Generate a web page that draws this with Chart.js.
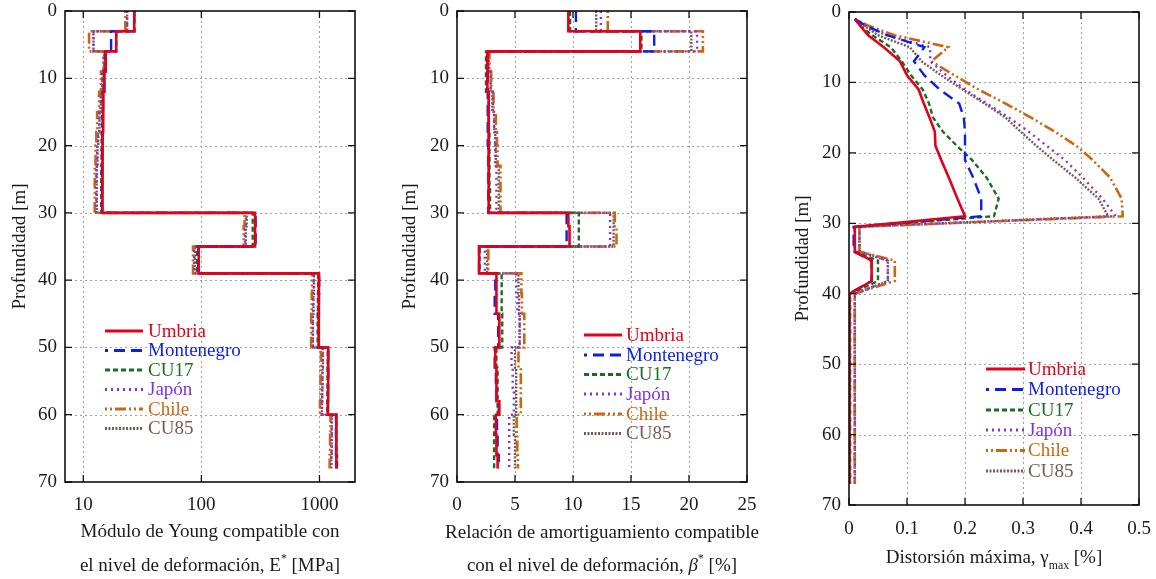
<!DOCTYPE html>
<html>
<head>
<meta charset="utf-8">
<script src="https://cdn.jsdelivr.net/npm/chart.js@4.4.1/dist/chart.umd.min.js"></script>
<style>
  html, body { margin: 0; padding: 0; background: #fff; }
  #wrap { position: relative; width: 1156px; height: 579px; }
  canvas { position: absolute; top: 0; }
</style>
</head>
<body>
<div id="wrap">
  <canvas id="cE" width="380" height="579" style="left:0;width:380px;height:579px"></canvas>
  <canvas id="cBeta" width="400" height="579" style="left:380px;width:400px;height:579px"></canvas>
  <canvas id="cGamma" width="376" height="579" style="left:780px;width:376px;height:579px"></canvas>
</div>
<script>
// series (sismos)
const seriesNames = ['Umbria', 'Montenegro', 'CU17', 'Japón', 'Chile', 'CU85'];
const seriesColors = ['#e2001a', '#0b1fe8', '#1c6d24', '#7f33e2', '#cc6612', '#765b53'];
const seriesDash = [[], [11, 6], [5, 3], [2, 4], [2, 3, 2, 3, 11, 3], [2, 1.5]];
const seriesWidth = [2.6, 2.4, 2.4, 2.4, 2.6, 2.4];

// limites de estratos [m]
const layerDepths = [0, 3, 6, 9, 12, 15, 18, 20, 23, 26, 30, 32, 35, 37, 39, 42, 45, 48, 50, 53, 56, 58, 60, 63, 66, 68];

// modulo de Young compatible E* [MPa], un valor por estrato
const eUmbria     = [27, 19, 15.5, 15.1, 14.8, 14.7, 14.6, 14.6, 14.5, 14.5, 285, 285, 95, 95, 990, 990, 985, 985, 1190, 1185, 1185, 1180, 1390, 1390, 1390];
const eMontenegro = [27, 17.2, 15.4, 15.0, 14.7, 14.6, 14.5, 14.4, 14.4, 14.4, 288, 288, 94, 94, 995, 990, 985, 985, 1185, 1185, 1180, 1180, 1380, 1380, 1400];
const eCU17       = [27, 19, 15.3, 14.9, 14.6, 14.4, 14.3, 14.3, 14.2, 14.2, 272, 272, 92, 92, 975, 970, 965, 965, 1175, 1170, 1170, 1165, 1390, 1390, 1410];
const eJapon      = [23.5, 12.2, 15.0, 14.5, 14.0, 13.6, 13.3, 13.1, 12.9, 12.9, 238, 234, 87, 87, 895, 885, 880, 880, 1065, 1060, 1055, 1050, 1270, 1265, 1260];
const eChile      = [22.7, 11.2, 14.8, 14.1, 13.6, 13.1, 12.9, 12.7, 12.5, 12.5, 232, 228, 85, 85, 865, 860, 850, 850, 1030, 1020, 1020, 1010, 1240, 1230, 1220];
const eCU85       = [23.5, 12.2, 15.0, 14.5, 14.1, 13.7, 13.4, 13.2, 13.0, 13.0, 242, 238, 88, 88, 900, 890, 880, 880, 1070, 1060, 1055, 1050, 1270, 1270, 1260];
const eTicks = [10, 100, 1000];

// amortiguamiento compatible beta* [%], un valor por estrato
const betaUmbria     = [9.6, 15.8, 2.65, 2.6, 2.72, 2.72, 2.72, 2.72, 2.75, 2.75, 9.6, 9.7, 1.9, 1.9, 3.4, 3.4, 3.65, 3.65, 3.3, 3.4, 3.4, 3.65, 3.35, 3.4, 3.5];
const betaMontenegro = [10.25, 17.0, 2.6, 2.65, 2.65, 2.65, 2.65, 2.7, 2.7, 2.7, 9.45, 9.45, 1.9, 1.9, 3.3, 3.25, 3.55, 3.55, 3.25, 3.35, 3.4, 3.6, 3.45, 3.5, 3.6];
const betaCU17       = [9.75, 15.9, 2.5, 2.5, 2.75, 2.75, 2.8, 2.8, 2.8, 2.85, 10.5, 10.5, 1.95, 1.95, 3.85, 3.85, 3.9, 3.9, 3.4, 3.5, 3.5, 3.5, 3.2, 3.2, 3.2];
const betaJapon      = [12.4, 20.7, 2.7, 2.9, 3.1, 3.2, 3.3, 3.3, 3.4, 3.4, 13.2, 13.2, 2.4, 2.4, 5.1, 5.2, 5.4, 5.4, 4.7, 4.8, 4.9, 4.9, 4.5, 4.5, 4.5];
const betaChile      = [13.0, 21.2, 2.8, 2.95, 3.15, 3.35, 3.45, 3.5, 3.75, 3.75, 13.6, 13.75, 2.7, 2.7, 5.55, 5.6, 5.8, 5.8, 5.3, 5.5, 5.5, 5.5, 5.15, 5.2, 5.25];
const betaCU85       = [12.0, 20.2, 2.75, 2.9, 3.05, 3.2, 3.3, 3.35, 3.6, 3.6, 13.5, 13.5, 2.6, 2.6, 5.3, 5.35, 5.4, 5.4, 5.0, 5.1, 5.1, 5.1, 4.9, 5.0, 5.0];

// distorsion maxima gamma_max [%] en cada nodo de profundidad
const gammaDepths     = [1, 2, 3.3, 5, 7, 9, 11, 13, 15, 17, 19, 21, 23.5, 26.5, 29, 30.5, 34, 35.3, 38.2, 40, 50, 60, 67];
const gammaUmbria     = [0.010, 0.020, 0.033, 0.060, 0.088, 0.100, 0.120, 0.129, 0.139, 0.148, 0.149, 0.159, 0.172, 0.187, 0.200, 0.010, 0.010, 0.039, 0.039, 0.001, 0.001, 0.001, 0.001];
const gammaMontenegro = [0.010, 0.030, 0.066, 0.130, 0.112, 0.130, 0.156, 0.190, 0.198, 0.200, 0.200, 0.200, 0.214, 0.228, 0.228, 0.008, 0.008, 0.039, 0.039, 0.000, 0.000, 0.000, 0.000];
const gammaCU17       = [0.010, 0.020, 0.040, 0.072, 0.091, 0.107, 0.127, 0.138, 0.145, 0.162, 0.186, 0.212, 0.237, 0.258, 0.250, 0.010, 0.010, 0.050, 0.050, 0.002, 0.002, 0.002, 0.002];
const gammaJapon      = [0.010, 0.030, 0.065, 0.140, 0.140, 0.168, 0.200, 0.238, 0.276, 0.310, 0.341, 0.372, 0.403, 0.437, 0.460, 0.018, 0.018, 0.067, 0.067, 0.010, 0.010, 0.010, 0.010];
const gammaChile      = [0.010, 0.035, 0.079, 0.171, 0.142, 0.182, 0.223, 0.270, 0.314, 0.355, 0.392, 0.420, 0.450, 0.470, 0.472, 0.018, 0.018, 0.079, 0.079, 0.010, 0.010, 0.010, 0.010];
const gammaCU85       = [0.010, 0.027, 0.050, 0.105, 0.125, 0.159, 0.196, 0.234, 0.270, 0.296, 0.323, 0.352, 0.390, 0.430, 0.447, 0.018, 0.018, 0.067, 0.067, 0.010, 0.010, 0.010, 0.010];

const serif = '"Liberation Serif", "DejaVu Serif", serif';
const fontSize = 19;

// perfil escalonado: cada estrato da dos puntos (techo y base)
function stepPoints(values) {
  const pts = [];
  values.forEach((v, i) => {
    pts.push({ x: v, y: layerDepths[i] });
    pts.push({ x: v, y: layerDepths[i + 1] });
  });
  return pts;
}

function nodePoints(values) {
  return values.map((v, i) => ({ x: v, y: gammaDepths[i] }));
}

function makeDatasets(list, toPoints) {
  return list.map((vals, i) => ({
    label: seriesNames[i],
    data: toPoints(vals),
    showLine: true,
    borderColor: seriesColors[i],
    borderWidth: seriesWidth[i],
    borderDash: seriesDash[i],
    pointRadius: 0,
    fill: false
  }));
}

// texto con superindices / subindices
function drawRich(ctx, segs, cx, cy) {
  const fontOf = s => {
    const size = (s.sup || s.sub) ? fontSize * 0.62 : fontSize;
    return (s.italic ? 'italic ' : '') + size + 'px ' + serif;
  };
  let total = 0;
  segs.forEach(s => { ctx.font = fontOf(s); total += ctx.measureText(s.t).width; });
  let x = cx - total / 2;
  ctx.textAlign = 'left';
  ctx.textBaseline = 'middle';
  segs.forEach(s => {
    ctx.font = fontOf(s);
    const dy = s.sup ? -fontSize * 0.38 : (s.sub ? fontSize * 0.42 : 0);
    ctx.fillText(s.t, x, cy + dy);
    x += ctx.measureText(s.t).width;
  });
}

// marco, rejilla punteada, marcas interiores, titulos y leyenda
function makeFrame(p) {
  return {
    id: 'frame',
    beforeDatasetsDraw(chart) {
      const { ctx, chartArea: a, scales: { x, y } } = chart;
      ctx.save();
      ctx.strokeStyle = '#a0a0a0';
      ctx.lineWidth = 1;
      ctx.setLineDash([2, 3]);
      ctx.beginPath();
      x.ticks.forEach(t => {
        const px = Math.round(x.getPixelForValue(t.value)) + 0.5;
        if (px > a.left + 2 && px < a.right - 2) { ctx.moveTo(px, a.top); ctx.lineTo(px, a.bottom); }
      });
      y.ticks.forEach(t => {
        const py = Math.round(y.getPixelForValue(t.value)) + 0.5;
        if (py > a.top + 2 && py < a.bottom - 2) { ctx.moveTo(a.left, py); ctx.lineTo(a.right, py); }
      });
      ctx.stroke();
      ctx.restore();
    },
    afterDraw(chart) {
      const { ctx, chartArea: a, scales: { x, y } } = chart;
      ctx.save();
      ctx.setLineDash([]);
      ctx.strokeStyle = '#111';
      ctx.lineWidth = 1.6;
      ctx.strokeRect(a.left, a.top, a.right - a.left, a.bottom - a.top);

      ctx.lineWidth = 1.3;
      ctx.beginPath();
      x.ticks.forEach(t => {
        const px = x.getPixelForValue(t.value);
        ctx.moveTo(px, a.bottom); ctx.lineTo(px, a.bottom - 7);
        ctx.moveTo(px, a.top); ctx.lineTo(px, a.top + 7);
      });
      y.ticks.forEach(t => {
        const py = y.getPixelForValue(t.value);
        ctx.moveTo(a.left, py); ctx.lineTo(a.left + 7, py);
        ctx.moveTo(a.right, py); ctx.lineTo(a.right - 7, py);
      });
      ctx.stroke();

      // titulos de ejes
      ctx.fillStyle = '#1a1a1a';
      const cx = (a.left + a.right) / 2;
      p.xTitle.forEach((line, i) => drawRich(ctx, line, cx, p.xTitleY[i]));
      ctx.save();
      ctx.translate(p.yTitleX, (a.top + a.bottom) / 2);
      ctx.rotate(-Math.PI / 2);
      drawRich(ctx, [{ t: 'Profundidad [m]' }], 0, 0);
      ctx.restore();

      // leyenda
      chart.data.datasets.forEach((ds, i) => {
        const ly = p.legendY[i];
        ctx.strokeStyle = ds.borderColor;
        ctx.lineWidth = ds.borderWidth + 0.6;
        ctx.setLineDash(ds.borderDash);
        ctx.lineDashOffset = i === 1 ? 8 : 0;
        ctx.beginPath();
        ctx.moveTo(p.legendX[0], ly);
        ctx.lineTo(p.legendX[1], ly);
        ctx.stroke();
        ctx.setLineDash([]);
        ctx.lineDashOffset = 0;
        ctx.fillStyle = ds.borderColor;
        ctx.font = fontSize + 'px ' + serif;
        ctx.textAlign = 'left';
        ctx.textBaseline = 'middle';
        ctx.fillText(ds.label, p.legendX[2], ly + 1);
      });
      ctx.restore();
    }
  };
}

function makePanel(canvasId, datasets, xScale, p) {
  const tickFont = { family: serif, size: fontSize };
  const xTicks = Object.assign(
    { font: tickFont, color: '#1a1a1a', padding: p.xTickPad, maxRotation: 0, autoSkip: false },
    xScale.ticks || {}
  );
  const x = Object.assign({}, xScale, {
    grid: { display: false, drawTicks: false },
    border: { display: false },
    ticks: xTicks,
    afterFit: s => { s.height = p.xAxisH; s.paddingLeft = 0; s.paddingRight = 0; }
  });
  return new Chart(document.getElementById(canvasId), {
    type: 'scatter',
    data: { datasets },
    options: {
      responsive: false,
      animation: false,
      layout: { padding: { left: 0, right: p.padRight, top: p.padTop, bottom: 0 } },
      plugins: { legend: { display: false }, tooltip: { enabled: false } },
      elements: { line: { tension: 0, borderCapStyle: 'butt' } },
      scales: {
        x: x,
        y: {
          type: 'linear',
          reverse: true,
          min: 0,
          max: 70,
          grid: { display: false, drawTicks: false },
          border: { display: false },
          ticks: { stepSize: 10, font: tickFont, color: '#1a1a1a', padding: 8 },
          afterFit: s => { s.width = p.yAxisW; s.paddingTop = 0; s.paddingBottom = 0; }
        }
      }
    },
    plugins: [makeFrame(p)]
  });
}

makePanel('cE',
  makeDatasets([eUmbria, eMontenegro, eCU17, eJapon, eChile, eCU85], stepPoints),
  {
    type: 'logarithmic', min: 7, max: 2000, bounds: 'data',
    afterBuildTicks: s => { s.ticks = eTicks.map(v => ({ value: v })); },
    ticks: { callback: v => String(v) }
  },
  {
    padRight: 25, padTop: 11, yAxisW: 65, xAxisH: 97, xTickPad: 12,
    xTitle: [
      [{ t: 'Módulo de Young compatible con' }],
      [{ t: 'el nivel de deformación, E' }, { t: '*', sup: true }, { t: ' [MPa]' }]
    ],
    xTitleY: [532, 566], yTitleX: 20,
    legendX: [105, 143, 148], legendY: [331, 350.5, 370, 389.5, 409, 428.5]
  });

makePanel('cBeta',
  makeDatasets([betaUmbria, betaMontenegro, betaCU17, betaJapon, betaChile, betaCU85], stepPoints),
  { type: 'linear', min: 0, max: 25, ticks: { stepSize: 5 } },
  {
    padRight: 33, padTop: 11, yAxisW: 77, xAxisH: 97, xTickPad: 12,
    xTitle: [
      [{ t: 'Relación de amortiguamiento compatible' }],
      [{ t: 'con el nivel de deformación, ' }, { t: 'β', italic: true }, { t: '*', sup: true }, { t: ' [%]' }]
    ],
    xTitleY: [533, 566], yTitleX: 30,
    legendX: [204, 242, 246], legendY: [335, 355, 374.5, 394, 414, 433.5]
  });

makePanel('cGamma',
  makeDatasets([gammaUmbria, gammaMontenegro, gammaCU17, gammaJapon, gammaChile, gammaCU85], nodePoints),
  { type: 'linear', min: 0, max: 0.5, ticks: { stepSize: 0.1 } },
  {
    padRight: 17, padTop: 12, yAxisW: 69, xAxisH: 74, xTickPad: 13,
    xTitle: [
      [{ t: 'Distorsión máxima, γ' }, { t: 'max', sub: true }, { t: ' [%]' }]
    ],
    xTitleY: [558], yTitleX: 23,
    legendX: [206, 245, 248], legendY: [369, 389.5, 410, 430, 450.5, 471]
  });
</script>
</body>
</html>
